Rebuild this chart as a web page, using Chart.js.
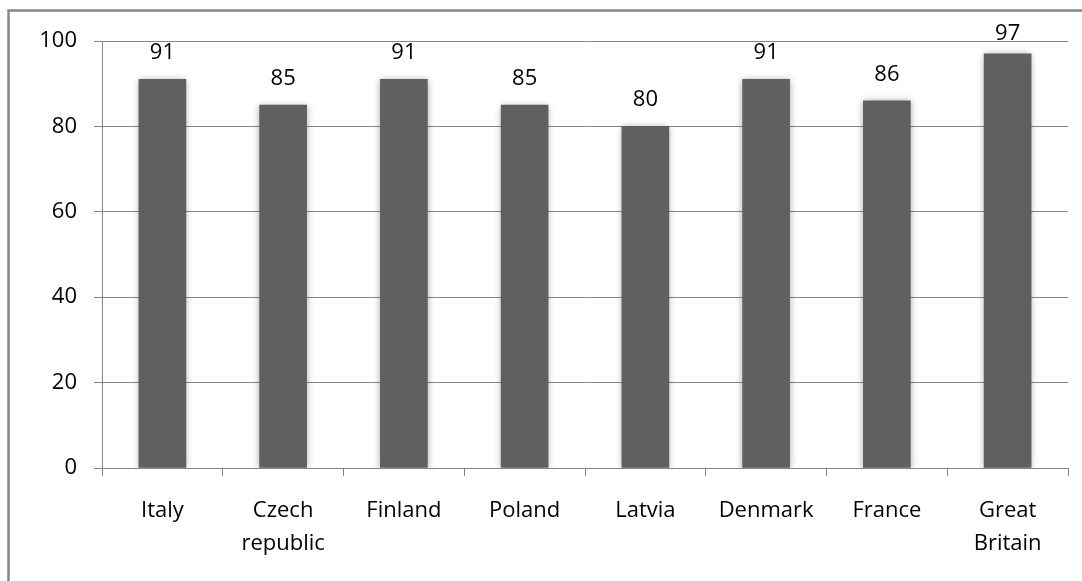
<!DOCTYPE html>
<html>
<head>
<meta charset="utf-8">
<script src="https://cdn.jsdelivr.net/npm/chart.js@4/dist/chart.umd.min.js"></script>
<style>
  body { margin: 0; background: #fff; }
  #wrap { width: 1082px; height: 581px; }
</style>
</head>
<body>
<div id="wrap"><canvas id="myChart" width="1082" height="581"></canvas></div>
<script>
// chart data
var countries = [['Italy'], ['Czech', 'republic'], ['Finland'], ['Poland'], ['Latvia'], ['Denmark'], ['France'], ['Great', 'Britain']];
var scores = [91, 85, 91, 85, 80, 91, 86, 97];
var yTicks = [0, 20, 40, 60, 80, 100];

var gridGray = '#868686';
var fontFam = '"Open Sans", "Liberation Sans", sans-serif';

/* ---------plugins--------- */
// outer frame (only left + top visible in the picture)
const frame = {
    id: 'frame',
    beforeDraw(chart) {
        const ctx = chart.ctx;
        ctx.save();
        ctx.fillStyle = '#fff';
        ctx.fillRect(0, 0, chart.width, chart.height);
        ctx.strokeStyle = gridGray;
        ctx.lineWidth = 2.5;
        ctx.beginPath();
        ctx.moveTo(8.5, chart.height + 5);
        ctx.lineTo(8.5, 10.5);
        ctx.lineTo(chart.width + 5, 10.5);
        ctx.stroke();
        ctx.restore();
    }
};

// soft shadow round the bars
const barShadow = {
    id: 'barShadow',
    beforeDatasetsDraw(chart) {
        const ctx = chart.ctx;
        ctx.save();
        ctx.shadowColor = 'rgba(0,0,0,0.35)';
        ctx.shadowBlur = 7;
        ctx.shadowOffsetY = 1;
    },
    afterDatasetsDraw(chart) {
        chart.ctx.restore();
    }
};

// value labels above bars
const valueLabels = {
    id: 'valueLabels',
    afterDatasetsDraw(chart) {
        const ctx = chart.ctx;
        const meta = chart.getDatasetMeta(0);
        ctx.save();
        ctx.font = '22px ' + fontFam;
        ctx.fillStyle = '#000';
        ctx.textAlign = 'center';
        ctx.textBaseline = 'alphabetic';
        meta.data.forEach(function (bar, i) {
            var y = Math.max(bar.y - 20, chart.chartArea.top - 1);
            ctx.fillText(scores[i], bar.x, y);
        });
        ctx.restore();
    }
};

/* ---------config--------- */
const config = {
    type: 'bar',
    data: {
        labels: countries,
        datasets: [{
            data: scores,
            backgroundColor: '#606060',
            borderWidth: 0,
            barThickness: 47
        }]
    },
    plugins: [frame, barShadow, valueLabels],
    options: {
        responsive: false,
        animation: false,
        layout: { padding: { left: 0, top: 41, right: 14, bottom: 0 } },
        plugins: {
            legend: { display: false },
            tooltip: { enabled: false }
        },
        scales: {
            y: {
                min: 0,
                max: 100,
                afterBuildTicks: function (scale) {
                    scale.ticks = yTicks.map(function (v) { return { value: v }; });
                },
                afterFit: function (scale) {
                    scale.width = 102;
                    scale.paddingTop = 0;
                    scale.paddingBottom = 0;
                },
                grid: { color: gridGray, lineWidth: 1, tickLength: 8 },
                border: { color: gridGray, width: 1 },
                ticks: {
                    padding: 17,
                    color: '#000',
                    font: { family: fontFam, size: 22 }
                }
            },
            x: {
                afterFit: function (scale) {
                    scale.height = 113;
                    scale.paddingLeft = 0;
                    scale.paddingRight = 0;
                },
                grid: { offset: true, drawOnChartArea: false, color: gridGray, tickLength: 8 },
                border: { color: gridGray, width: 1 },
                ticks: {
                    padding: 18,
                    maxRotation: 0,
                    autoSkip: false,
                    color: '#000',
                    font: { family: fontFam, size: 22, lineHeight: 1.5 }
                }
            }
        }
    }
};

function createChart() {
    var myChart = new Chart(document.getElementById('myChart'), config);
}
createChart();
</script>
</body>
</html>
